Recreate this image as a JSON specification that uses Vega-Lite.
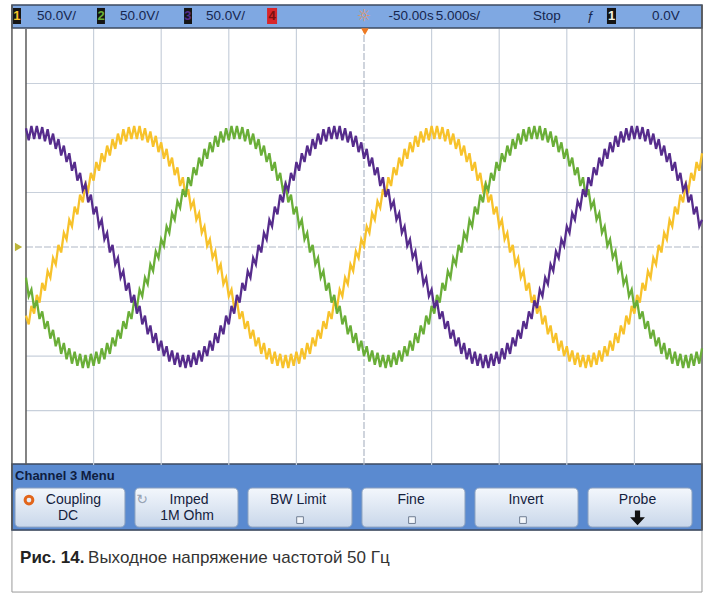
{
"$schema":"https://vega.github.io/schema/vega-lite/v6.json",
"width":708,"height":594,
"autosize":{"type":"fit","contains":"padding"},
"padding":0,
"background":"white",
"config":{"view":{"stroke":null}},
"datasets":{
"wave":[
{"t":-25,"ch1":-63,"ch2":-28,"ch3":109},{"t":-24.8,"ch1":-71,"ch2":-45,"ch3":98},{"t":-24.6,"ch1":-54,"ch2":-39,"ch3":111},{"t":-24.4,"ch1":-61,"ch2":-56,"ch3":99},{"t":-24.2,"ch1":-44,"ch2":-49,"ch3":111},{"t":-24,"ch1":-51,"ch2":-66,"ch3":99},{"t":-23.8,"ch1":-33,"ch2":-59,"ch3":110},{"t":-23.6,"ch1":-40,"ch2":-75,"ch3":97},{"t":-23.4,"ch1":-22,"ch2":-68,"ch3":108},{"t":-23.2,"ch1":-28,"ch2":-84,"ch3":94},
{"t":-23,"ch1":-10,"ch2":-76,"ch3":104},{"t":-22.8,"ch1":-16,"ch2":-91,"ch3":90},{"t":-22.6,"ch1":2,"ch2":-83,"ch3":99},{"t":-22.4,"ch1":-5,"ch2":-98,"ch3":84},{"t":-22.2,"ch1":13,"ch2":-88,"ch3":93},{"t":-22,"ch1":7,"ch2":-103,"ch3":78},{"t":-21.8,"ch1":25,"ch2":-93,"ch3":86},{"t":-21.6,"ch1":19,"ch2":-107,"ch3":70},{"t":-21.4,"ch1":37,"ch2":-96,"ch3":78},{"t":-21.2,"ch1":30,"ch2":-109,"ch3":61},
{"t":-21,"ch1":48,"ch2":-98,"ch3":68},{"t":-20.8,"ch1":41,"ch2":-111,"ch3":52},{"t":-20.6,"ch1":58,"ch2":-99,"ch3":58},{"t":-20.4,"ch1":52,"ch2":-111,"ch3":41},{"t":-20.2,"ch1":68,"ch2":-98,"ch3":48},{"t":-20,"ch1":61,"ch2":-109,"ch3":30},{"t":-19.8,"ch1":78,"ch2":-96,"ch3":37},{"t":-19.6,"ch1":70,"ch2":-107,"ch3":19},{"t":-19.4,"ch1":86,"ch2":-93,"ch3":25},{"t":-19.2,"ch1":78,"ch2":-103,"ch3":7},
{"t":-19,"ch1":93,"ch2":-88,"ch3":13},{"t":-18.8,"ch1":84,"ch2":-98,"ch3":-5},{"t":-18.6,"ch1":99,"ch2":-83,"ch3":2},{"t":-18.4,"ch1":90,"ch2":-91,"ch3":-16},{"t":-18.2,"ch1":104,"ch2":-76,"ch3":-10},{"t":-18,"ch1":94,"ch2":-84,"ch3":-28},{"t":-17.8,"ch1":108,"ch2":-68,"ch3":-22},{"t":-17.6,"ch1":97,"ch2":-75,"ch3":-40},{"t":-17.4,"ch1":110,"ch2":-59,"ch3":-33},{"t":-17.2,"ch1":99,"ch2":-66,"ch3":-51},
{"t":-17,"ch1":111,"ch2":-49,"ch3":-44},{"t":-16.8,"ch1":99,"ch2":-56,"ch3":-61},{"t":-16.6,"ch1":111,"ch2":-39,"ch3":-54},{"t":-16.4,"ch1":98,"ch2":-45,"ch3":-71},{"t":-16.2,"ch1":109,"ch2":-28,"ch3":-63},{"t":-16,"ch1":96,"ch2":-34,"ch3":-80},{"t":-15.8,"ch1":106,"ch2":-16,"ch3":-72},{"t":-15.6,"ch1":92,"ch2":-22,"ch3":-88},{"t":-15.4,"ch1":102,"ch2":-4,"ch3":-79},{"t":-15.2,"ch1":87,"ch2":-10,"ch3":-95},
{"t":-15,"ch1":96,"ch2":7,"ch3":-86},{"t":-14.8,"ch1":81,"ch2":1,"ch3":-100},{"t":-14.6,"ch1":90,"ch2":19,"ch3":-91},{"t":-14.4,"ch1":74,"ch2":13,"ch3":-105},{"t":-14.2,"ch1":82,"ch2":31,"ch3":-95},{"t":-14,"ch1":66,"ch2":25,"ch3":-108},{"t":-13.8,"ch1":73,"ch2":42,"ch3":-97},{"t":-13.6,"ch1":56,"ch2":36,"ch3":-110},{"t":-13.4,"ch1":64,"ch2":53,"ch3":-99},{"t":-13.2,"ch1":46,"ch2":46,"ch3":-111},
{"t":-13,"ch1":53,"ch2":64,"ch3":-99},{"t":-12.8,"ch1":36,"ch2":56,"ch3":-110},{"t":-12.6,"ch1":42,"ch2":73,"ch3":-97},{"t":-12.4,"ch1":25,"ch2":66,"ch3":-108},{"t":-12.2,"ch1":31,"ch2":82,"ch3":-95},{"t":-12,"ch1":13,"ch2":74,"ch3":-105},{"t":-11.8,"ch1":19,"ch2":90,"ch3":-91},{"t":-11.6,"ch1":1,"ch2":81,"ch3":-100},{"t":-11.4,"ch1":7,"ch2":96,"ch3":-86},{"t":-11.2,"ch1":-10,"ch2":87,"ch3":-95},
{"t":-11,"ch1":-4,"ch2":102,"ch3":-79},{"t":-10.8,"ch1":-22,"ch2":92,"ch3":-88},{"t":-10.6,"ch1":-16,"ch2":106,"ch3":-72},{"t":-10.4,"ch1":-34,"ch2":96,"ch3":-80},{"t":-10.2,"ch1":-28,"ch2":109,"ch3":-63},{"t":-10,"ch1":-45,"ch2":98,"ch3":-71},{"t":-9.8,"ch1":-39,"ch2":111,"ch3":-54},{"t":-9.6,"ch1":-56,"ch2":99,"ch3":-61},{"t":-9.4,"ch1":-49,"ch2":111,"ch3":-44},{"t":-9.2,"ch1":-66,"ch2":99,"ch3":-51},
{"t":-9,"ch1":-59,"ch2":110,"ch3":-33},{"t":-8.8,"ch1":-75,"ch2":97,"ch3":-40},{"t":-8.6,"ch1":-68,"ch2":108,"ch3":-22},{"t":-8.4,"ch1":-84,"ch2":94,"ch3":-28},{"t":-8.2,"ch1":-76,"ch2":104,"ch3":-10},{"t":-8,"ch1":-91,"ch2":90,"ch3":-16},{"t":-7.8,"ch1":-83,"ch2":99,"ch3":2},{"t":-7.6,"ch1":-98,"ch2":84,"ch3":-5},{"t":-7.4,"ch1":-88,"ch2":93,"ch3":13},{"t":-7.2,"ch1":-103,"ch2":78,"ch3":7},
{"t":-7,"ch1":-93,"ch2":86,"ch3":25},{"t":-6.8,"ch1":-107,"ch2":70,"ch3":19},{"t":-6.6,"ch1":-96,"ch2":78,"ch3":37},{"t":-6.4,"ch1":-109,"ch2":61,"ch3":30},{"t":-6.2,"ch1":-98,"ch2":68,"ch3":48},{"t":-6,"ch1":-111,"ch2":52,"ch3":41},{"t":-5.8,"ch1":-99,"ch2":58,"ch3":58},{"t":-5.6,"ch1":-111,"ch2":41,"ch3":52},{"t":-5.4,"ch1":-98,"ch2":48,"ch3":68},{"t":-5.2,"ch1":-109,"ch2":30,"ch3":61},
{"t":-5,"ch1":-96,"ch2":37,"ch3":78},{"t":-4.8,"ch1":-107,"ch2":19,"ch3":70},{"t":-4.6,"ch1":-93,"ch2":25,"ch3":86},{"t":-4.4,"ch1":-103,"ch2":7,"ch3":78},{"t":-4.2,"ch1":-88,"ch2":13,"ch3":93},{"t":-4,"ch1":-98,"ch2":-5,"ch3":84},{"t":-3.8,"ch1":-83,"ch2":2,"ch3":99},{"t":-3.6,"ch1":-91,"ch2":-16,"ch3":90},{"t":-3.4,"ch1":-76,"ch2":-10,"ch3":104},{"t":-3.2,"ch1":-84,"ch2":-28,"ch3":94},
{"t":-3,"ch1":-68,"ch2":-22,"ch3":108},{"t":-2.8,"ch1":-75,"ch2":-40,"ch3":97},{"t":-2.6,"ch1":-59,"ch2":-33,"ch3":110},{"t":-2.4,"ch1":-66,"ch2":-51,"ch3":99},{"t":-2.2,"ch1":-49,"ch2":-44,"ch3":111},{"t":-2,"ch1":-56,"ch2":-61,"ch3":99},{"t":-1.8,"ch1":-39,"ch2":-54,"ch3":111},{"t":-1.6,"ch1":-45,"ch2":-71,"ch3":98},{"t":-1.4,"ch1":-28,"ch2":-63,"ch3":109},{"t":-1.2,"ch1":-34,"ch2":-80,"ch3":96},
{"t":-1,"ch1":-16,"ch2":-72,"ch3":106},{"t":-0.8,"ch1":-22,"ch2":-88,"ch3":92},{"t":-0.6,"ch1":-4,"ch2":-79,"ch3":102},{"t":-0.4,"ch1":-10,"ch2":-95,"ch3":87},{"t":-0.2,"ch1":7,"ch2":-86,"ch3":96},{"t":0,"ch1":1,"ch2":-100,"ch3":81},{"t":0.2,"ch1":19,"ch2":-91,"ch3":90},{"t":0.4,"ch1":13,"ch2":-105,"ch3":74},{"t":0.6,"ch1":31,"ch2":-95,"ch3":82},{"t":0.8,"ch1":25,"ch2":-108,"ch3":66},
{"t":1,"ch1":42,"ch2":-97,"ch3":73},{"t":1.2,"ch1":36,"ch2":-110,"ch3":56},{"t":1.4,"ch1":53,"ch2":-99,"ch3":64},{"t":1.6,"ch1":46,"ch2":-111,"ch3":46},{"t":1.8,"ch1":64,"ch2":-99,"ch3":53},{"t":2,"ch1":56,"ch2":-110,"ch3":36},{"t":2.2,"ch1":73,"ch2":-97,"ch3":42},{"t":2.4,"ch1":66,"ch2":-108,"ch3":25},{"t":2.6,"ch1":82,"ch2":-95,"ch3":31},{"t":2.8,"ch1":74,"ch2":-105,"ch3":13},
{"t":3,"ch1":90,"ch2":-91,"ch3":19},{"t":3.2,"ch1":81,"ch2":-100,"ch3":1},{"t":3.4,"ch1":96,"ch2":-86,"ch3":7},{"t":3.6,"ch1":87,"ch2":-95,"ch3":-10},{"t":3.8,"ch1":102,"ch2":-79,"ch3":-4},{"t":4,"ch1":92,"ch2":-88,"ch3":-22},{"t":4.2,"ch1":106,"ch2":-72,"ch3":-16},{"t":4.4,"ch1":96,"ch2":-80,"ch3":-34},{"t":4.6,"ch1":109,"ch2":-63,"ch3":-28},{"t":4.8,"ch1":98,"ch2":-71,"ch3":-45},
{"t":5,"ch1":111,"ch2":-54,"ch3":-39},{"t":5.2,"ch1":99,"ch2":-61,"ch3":-56},{"t":5.4,"ch1":111,"ch2":-44,"ch3":-49},{"t":5.6,"ch1":99,"ch2":-51,"ch3":-66},{"t":5.8,"ch1":110,"ch2":-33,"ch3":-59},{"t":6,"ch1":97,"ch2":-40,"ch3":-75},{"t":6.2,"ch1":108,"ch2":-22,"ch3":-68},{"t":6.4,"ch1":94,"ch2":-28,"ch3":-84},{"t":6.6,"ch1":104,"ch2":-10,"ch3":-76},{"t":6.8,"ch1":90,"ch2":-16,"ch3":-91},
{"t":7,"ch1":99,"ch2":2,"ch3":-83},{"t":7.2,"ch1":84,"ch2":-5,"ch3":-98},{"t":7.4,"ch1":93,"ch2":13,"ch3":-88},{"t":7.6,"ch1":78,"ch2":7,"ch3":-103},{"t":7.8,"ch1":86,"ch2":25,"ch3":-93},{"t":8,"ch1":70,"ch2":19,"ch3":-107},{"t":8.2,"ch1":78,"ch2":37,"ch3":-96},{"t":8.4,"ch1":61,"ch2":30,"ch3":-109},{"t":8.6,"ch1":68,"ch2":48,"ch3":-98},{"t":8.8,"ch1":52,"ch2":41,"ch3":-111},
{"t":9,"ch1":58,"ch2":58,"ch3":-99},{"t":9.2,"ch1":41,"ch2":52,"ch3":-111},{"t":9.4,"ch1":48,"ch2":68,"ch3":-98},{"t":9.6,"ch1":30,"ch2":61,"ch3":-109},{"t":9.8,"ch1":37,"ch2":78,"ch3":-96},{"t":10,"ch1":19,"ch2":70,"ch3":-107},{"t":10.2,"ch1":25,"ch2":86,"ch3":-93},{"t":10.4,"ch1":7,"ch2":78,"ch3":-103},{"t":10.6,"ch1":13,"ch2":93,"ch3":-88},{"t":10.8,"ch1":-5,"ch2":84,"ch3":-98},
{"t":11,"ch1":2,"ch2":99,"ch3":-83},{"t":11.2,"ch1":-16,"ch2":90,"ch3":-91},{"t":11.4,"ch1":-10,"ch2":104,"ch3":-76},{"t":11.6,"ch1":-28,"ch2":94,"ch3":-84},{"t":11.8,"ch1":-22,"ch2":108,"ch3":-68},{"t":12,"ch1":-40,"ch2":97,"ch3":-75},{"t":12.2,"ch1":-33,"ch2":110,"ch3":-59},{"t":12.4,"ch1":-51,"ch2":99,"ch3":-66},{"t":12.6,"ch1":-44,"ch2":111,"ch3":-49},{"t":12.8,"ch1":-61,"ch2":99,"ch3":-56},
{"t":13,"ch1":-54,"ch2":111,"ch3":-39},{"t":13.2,"ch1":-71,"ch2":98,"ch3":-45},{"t":13.4,"ch1":-63,"ch2":109,"ch3":-28},{"t":13.6,"ch1":-80,"ch2":96,"ch3":-34},{"t":13.8,"ch1":-72,"ch2":106,"ch3":-16},{"t":14,"ch1":-88,"ch2":92,"ch3":-22},{"t":14.2,"ch1":-79,"ch2":102,"ch3":-4},{"t":14.4,"ch1":-95,"ch2":87,"ch3":-10},{"t":14.6,"ch1":-86,"ch2":96,"ch3":7},{"t":14.8,"ch1":-100,"ch2":81,"ch3":1},
{"t":15,"ch1":-91,"ch2":90,"ch3":19},{"t":15.2,"ch1":-105,"ch2":74,"ch3":13},{"t":15.4,"ch1":-95,"ch2":82,"ch3":31},{"t":15.6,"ch1":-108,"ch2":66,"ch3":25},{"t":15.8,"ch1":-97,"ch2":73,"ch3":42},{"t":16,"ch1":-110,"ch2":56,"ch3":36},{"t":16.2,"ch1":-99,"ch2":64,"ch3":53},{"t":16.4,"ch1":-111,"ch2":46,"ch3":46},{"t":16.6,"ch1":-99,"ch2":53,"ch3":64},{"t":16.8,"ch1":-110,"ch2":36,"ch3":56},
{"t":17,"ch1":-97,"ch2":42,"ch3":73},{"t":17.2,"ch1":-108,"ch2":25,"ch3":66},{"t":17.4,"ch1":-95,"ch2":31,"ch3":82},{"t":17.6,"ch1":-105,"ch2":13,"ch3":74},{"t":17.8,"ch1":-91,"ch2":19,"ch3":90},{"t":18,"ch1":-100,"ch2":1,"ch3":81},{"t":18.2,"ch1":-86,"ch2":7,"ch3":96},{"t":18.4,"ch1":-95,"ch2":-10,"ch3":87},{"t":18.6,"ch1":-79,"ch2":-4,"ch3":102},{"t":18.8,"ch1":-88,"ch2":-22,"ch3":92},
{"t":19,"ch1":-72,"ch2":-16,"ch3":106},{"t":19.2,"ch1":-80,"ch2":-34,"ch3":96},{"t":19.4,"ch1":-63,"ch2":-28,"ch3":109},{"t":19.6,"ch1":-71,"ch2":-45,"ch3":98},{"t":19.8,"ch1":-54,"ch2":-39,"ch3":111},{"t":20,"ch1":-61,"ch2":-56,"ch3":99},{"t":20.2,"ch1":-44,"ch2":-49,"ch3":111},{"t":20.4,"ch1":-51,"ch2":-66,"ch3":99},{"t":20.6,"ch1":-33,"ch2":-59,"ch3":110},{"t":20.8,"ch1":-40,"ch2":-75,"ch3":97},
{"t":21,"ch1":-22,"ch2":-68,"ch3":108},{"t":21.2,"ch1":-28,"ch2":-84,"ch3":94},{"t":21.4,"ch1":-10,"ch2":-76,"ch3":104},{"t":21.6,"ch1":-16,"ch2":-91,"ch3":90},{"t":21.8,"ch1":2,"ch2":-83,"ch3":99},{"t":22,"ch1":-5,"ch2":-98,"ch3":84},{"t":22.2,"ch1":13,"ch2":-88,"ch3":93},{"t":22.4,"ch1":7,"ch2":-103,"ch3":78},{"t":22.6,"ch1":25,"ch2":-93,"ch3":86},{"t":22.8,"ch1":19,"ch2":-107,"ch3":70},
{"t":23,"ch1":37,"ch2":-96,"ch3":78},{"t":23.2,"ch1":30,"ch2":-109,"ch3":61},{"t":23.4,"ch1":48,"ch2":-98,"ch3":68},{"t":23.6,"ch1":41,"ch2":-111,"ch3":52},{"t":23.8,"ch1":58,"ch2":-99,"ch3":58},{"t":24,"ch1":52,"ch2":-111,"ch3":41},{"t":24.2,"ch1":68,"ch2":-98,"ch3":48},{"t":24.4,"ch1":61,"ch2":-109,"ch3":30},{"t":24.6,"ch1":78,"ch2":-96,"ch3":37},{"t":24.8,"ch1":70,"ch2":-107,"ch3":19},
{"t":25,"ch1":86,"ch2":-93,"ch3":25}
],
"lines":[
{"t":-20,"t2":-20,"v":-200,"v2":200,"kind":"grid"},{"t":-15,"t2":-15,"v":-200,"v2":200,"kind":"grid"},{"t":-10,"t2":-10,"v":-200,"v2":200,"kind":"grid"},{"t":-5,"t2":-5,"v":-200,"v2":200,"kind":"grid"},{"t":5,"t2":5,"v":-200,"v2":200,"kind":"grid"},{"t":10,"t2":10,"v":-200,"v2":200,"kind":"grid"},{"t":15,"t2":15,"v":-200,"v2":200,"kind":"grid"},{"t":20,"t2":20,"v":-200,"v2":200,"kind":"grid"},
{"t":-25,"t2":25,"v":-150,"v2":-150,"kind":"grid"},{"t":-25,"t2":25,"v":-100,"v2":-100,"kind":"grid"},{"t":-25,"t2":25,"v":-50,"v2":-50,"kind":"grid"},{"t":-25,"t2":25,"v":50,"v2":50,"kind":"grid"},{"t":-25,"t2":25,"v":100,"v2":100,"kind":"grid"},{"t":-25,"t2":25,"v":150,"v2":150,"kind":"grid"},
{"t":0,"t2":0,"v":-200,"v2":200,"kind":"center"},{"t":-25,"t2":25,"v":0,"v2":0,"kind":"center"},
{"t":-25,"t2":-25,"v":-200,"v2":200,"kind":"border"},{"t":25,"t2":25,"v":-259.6,"v2":222,"kind":"border"},{"t":-26.04,"t2":-26.04,"v":-259.6,"v2":222,"kind":"border"}
],
"panels":[
{"t":-26.04,"t2":25,"v":-316.5,"v2":-259.6,"kind":"caption"},
{"t":-26.04,"t2":25,"v":200.9,"v2":222,"kind":"topbar"},
{"t":-26.04,"t2":25,"v":-259.6,"v2":-199,"kind":"menu"},
{"t":-25.81,"t2":-17.68,"v":-256.9,"v2":-221.1,"kind":"button"},{"t":-16.94,"t2":-9.32,"v":-256.9,"v2":-221.1,"kind":"button"},{"t":-8.58,"t2":-0.89,"v":-256.9,"v2":-221.1,"kind":"button"},{"t":-0.15,"t2":7.47,"v":-256.9,"v2":-221.1,"kind":"button"},{"t":8.21,"t2":15.83,"v":-256.9,"v2":-221.1,"kind":"button"},{"t":16.57,"t2":24.26,"v":-256.9,"v2":-221.1,"kind":"button"},
{"t":-25.96,"t2":-25.37,"v":204.6,"v2":219.3,"kind":"box"},{"t":-19.75,"t2":-19.16,"v":204.6,"v2":219.3,"kind":"box"},{"t":-13.31,"t2":-12.72,"v":204.6,"v2":219.3,"kind":"box"},{"t":17.97,"t2":18.64,"v":204.6,"v2":219.3,"kind":"box"},
{"t":-7.17,"t2":-6.43,"v":204.6,"v2":219.3,"kind":"redbox"}
],
"labels":[
{"t":-24.19,"v":211.5,"label":"50.0V/","kind":"top"},{"t":-18.05,"v":211.5,"label":"50.0V/","kind":"top"},{"t":-11.69,"v":211.5,"label":"50.0V/","kind":"top"},{"t":1.82,"v":211.5,"label":"-50.00s","kind":"top"},{"t":5.3,"v":211.5,"label":"5.000s/","kind":"top"},{"t":12.5,"v":211.5,"label":"Stop","kind":"top"},{"t":16.49,"v":211.5,"label":"ƒ","kind":"top"},{"t":21.3,"v":211.5,"label":"0.0V","kind":"top"},
{"t":-25.67,"v":211.5,"label":"1","ch":"ch1","kind":"num"},{"t":-19.45,"v":211.5,"label":"2","ch":"ch2","kind":"num"},{"t":-13.02,"v":211.5,"label":"3","ch":"ch3","kind":"num"},{"t":-6.8,"v":211.5,"label":"4","ch":"ch4","kind":"num"},{"t":18.31,"v":211.5,"label":"1","ch":"trig","kind":"num"},
{"t":0,"v":211.5,"label":"☼","kind":"sun"},
{"t":-25.81,"v":-210.1,"label":"Channel 3  Menu","kind":"menutitle"},
{"t":-21.49,"v":-232.1,"label":"Coupling","kind":"btn"},{"t":-21.89,"v":-246.8,"label":"DC","kind":"btn"},{"t":-12.94,"v":-232.1,"label":"Imped","kind":"btn"},{"t":-13.09,"v":-246.8,"label":"1M Ohm","kind":"btn"},{"t":-4.88,"v":-232.1,"label":"BW Limit","kind":"btn"},{"t":3.48,"v":-232.1,"label":"Fine","kind":"btn"},{"t":11.98,"v":-232.1,"label":"Invert","kind":"btn"},{"t":20.23,"v":-232.1,"label":"Probe","kind":"btn"},
{"t":-16.42,"v":-232.1,"label":"↻","kind":"icon"},
{"t":-25.44,"v":-285.3,"label":"Рис. 14.","kind":"capb"},
{"t":-20.41,"v":-285.3,"label":"Выходное напряжение частотой 50 Гц","kind":"cap"}
],
"points":[
{"t":-4.73,"v":-250.5,"kind":"check"},{"t":3.55,"v":-250.5,"kind":"check"},{"t":11.76,"v":-250.5,"kind":"check"},
{"t":20.23,"v":-248.5,"kind":"arrow"},
{"t":-24.78,"v":-232.1,"kind":"coup"},
{"t":0.07,"v":197.5,"kind":"trigm"},
{"t":-25.55,"v":0,"kind":"gnd"}
]
},
"encoding":{
"x":{"field":"t","type":"quantitative","scale":{"domain":[-26.923,25.444],"nice":false,"zero":false},"axis":null},
"y":{"field":"v","type":"quantitative","scale":{"domain":[-318.3,226.6],"nice":false,"zero":false},"axis":null}
},
"layer":[
{"data":{"name":"panels"},"transform":[{"filter":{"field":"kind","equal":"caption"}}],"mark":{"type":"rect","fill":"white","stroke":"#9a9a9a","strokeWidth":1},"encoding":{"x2":{"field":"t2"},"y2":{"field":"v2"}}},
{"data":{"name":"panels"},"transform":[{"filter":{"field":"kind","equal":"topbar"}}],"mark":{"type":"rect","fill":"#7fa8e2","stroke":"#3c4a60","strokeWidth":1.5},"encoding":{"x2":{"field":"t2"},"y2":{"field":"v2"}}},
{"data":{"name":"panels"},"transform":[{"filter":{"field":"kind","equal":"menu"}}],"mark":{"type":"rect","fill":"#5a8ad0","stroke":"#3c4a60","strokeWidth":1.5},"encoding":{"x2":{"field":"t2"},"y2":{"field":"v2"}}},
{"data":{"name":"panels"},"transform":[{"filter":{"field":"kind","equal":"button"}}],"mark":{"type":"rect","cornerRadius":4,"stroke":"#8da2bf","strokeWidth":1,"fill":{"gradient":"linear","x1":0,"y1":0,"x2":0,"y2":1,"stops":[{"offset":0,"color":"#f3f7fc"},{"offset":1,"color":"#c9d7ea"}]}},"encoding":{"x2":{"field":"t2"},"y2":{"field":"v2"}}},
{"data":{"name":"panels"},"transform":[{"filter":{"field":"kind","equal":"box"}}],"mark":{"type":"rect","fill":"#151515"},"encoding":{"x2":{"field":"t2"},"y2":{"field":"v2"}}},
{"data":{"name":"panels"},"transform":[{"filter":{"field":"kind","equal":"redbox"}}],"mark":{"type":"rect","fill":"#d8262a"},"encoding":{"x2":{"field":"t2"},"y2":{"field":"v2"}}},
{"data":{"name":"lines"},"transform":[{"filter":{"field":"kind","equal":"grid"}}],"mark":{"type":"rule","stroke":"#c8d0db","strokeWidth":1.2},"encoding":{"x2":{"field":"t2"},"y2":{"field":"v2"}}},
{"data":{"name":"lines"},"transform":[{"filter":{"field":"kind","equal":"center"}}],"mark":{"type":"rule","stroke":"#b0b8c6","strokeWidth":1.2,"strokeDash":[7,2]},"encoding":{"x2":{"field":"t2"},"y2":{"field":"v2"}}},
{"data":{"name":"lines"},"transform":[{"filter":{"field":"kind","equal":"border"}}],"mark":{"type":"rule","stroke":"#5a5a5a","strokeWidth":1.5},"encoding":{"x2":{"field":"t2"},"y2":{"field":"v2"}}},
{"data":{"name":"wave"},"transform":[{"fold":["ch1","ch2","ch3"],"as":["ch","v"]}],"mark":{"type":"line","strokeWidth":2.3},"encoding":{"color":{"field":"ch","type":"nominal","scale":{"domain":["ch1","ch2","ch3","ch4","trig"],"range":["#f7c22b","#6aae38","#562c8c","#7a1010","#f2f2e0"]},"legend":null}}},
{"data":{"name":"labels"},"transform":[{"filter":{"field":"kind","equal":"top"}}],"mark":{"type":"text","align":"left","baseline":"middle","font":"Liberation Sans","fontSize":13.5,"color":"#16264f"},"encoding":{"text":{"field":"label"}}},
{"data":{"name":"labels"},"transform":[{"filter":{"field":"kind","equal":"num"}}],"mark":{"type":"text","align":"center","baseline":"middle","font":"Liberation Sans","fontSize":13,"fontWeight":"bold"},"encoding":{"text":{"field":"label"},"color":{"field":"ch","type":"nominal","scale":{"domain":["ch1","ch2","ch3","ch4","trig"],"range":["#f7c22b","#6aae38","#562c8c","#7a1010","#f2f2e0"]},"legend":null}}},
{"data":{"name":"labels"},"transform":[{"filter":{"field":"kind","equal":"sun"}}],"mark":{"type":"text","align":"center","baseline":"middle","font":"DejaVu Sans","fontSize":16,"color":"#e8955a"},"encoding":{"text":{"field":"label"}}},
{"data":{"name":"labels"},"transform":[{"filter":{"field":"kind","equal":"menutitle"}}],"mark":{"type":"text","align":"left","baseline":"middle","font":"Liberation Sans","fontSize":13,"fontWeight":"bold","color":"#0f1d40"},"encoding":{"text":{"field":"label"}}},
{"data":{"name":"labels"},"transform":[{"filter":{"field":"kind","equal":"btn"}}],"mark":{"type":"text","align":"center","baseline":"middle","font":"Liberation Sans","fontSize":14,"color":"#14213d"},"encoding":{"text":{"field":"label"}}},
{"data":{"name":"labels"},"transform":[{"filter":{"field":"kind","equal":"icon"}}],"mark":{"type":"text","align":"center","baseline":"middle","font":"DejaVu Sans","fontSize":14,"color":"#98a4b4"},"encoding":{"text":{"field":"label"}}},
{"data":{"name":"labels"},"transform":[{"filter":{"field":"kind","equal":"capb"}}],"mark":{"type":"text","align":"left","baseline":"middle","font":"Liberation Sans","fontSize":17,"fontWeight":"bold","color":"#222222"},"encoding":{"text":{"field":"label"}}},
{"data":{"name":"labels"},"transform":[{"filter":{"field":"kind","equal":"cap"}}],"mark":{"type":"text","align":"left","baseline":"middle","font":"Liberation Sans","fontSize":17,"color":"#333333"},"encoding":{"text":{"field":"label"}}},
{"data":{"name":"points"},"transform":[{"filter":{"field":"kind","equal":"check"}}],"mark":{"type":"point","shape":"square","filled":true,"fill":"#f4f7fb","stroke":"#6f7d92","strokeWidth":1,"size":45,"opacity":1}},
{"data":{"name":"points"},"transform":[{"filter":{"field":"kind","equal":"arrow"}}],"mark":{"type":"point","shape":"M-0.35,-1L0.35,-1L0.35,-0.1L1,-0.1L0,1L-1,-0.1L-0.35,-0.1Z","filled":true,"fill":"#111111","size":220,"opacity":1}},
{"data":{"name":"points"},"transform":[{"filter":{"field":"kind","equal":"coup"}}],"mark":{"type":"point","shape":"circle","filled":false,"stroke":"#e2661c","strokeWidth":3,"size":60,"opacity":1}},
{"data":{"name":"points"},"transform":[{"filter":{"field":"kind","equal":"trigm"}}],"mark":{"type":"point","shape":"triangle-down","filled":true,"fill":"#ee7a22","size":60,"opacity":1}},
{"data":{"name":"points"},"transform":[{"filter":{"field":"kind","equal":"gnd"}}],"mark":{"type":"point","shape":"triangle-right","filled":true,"fill":"#bcb43a","size":70,"opacity":1}}
]
}
